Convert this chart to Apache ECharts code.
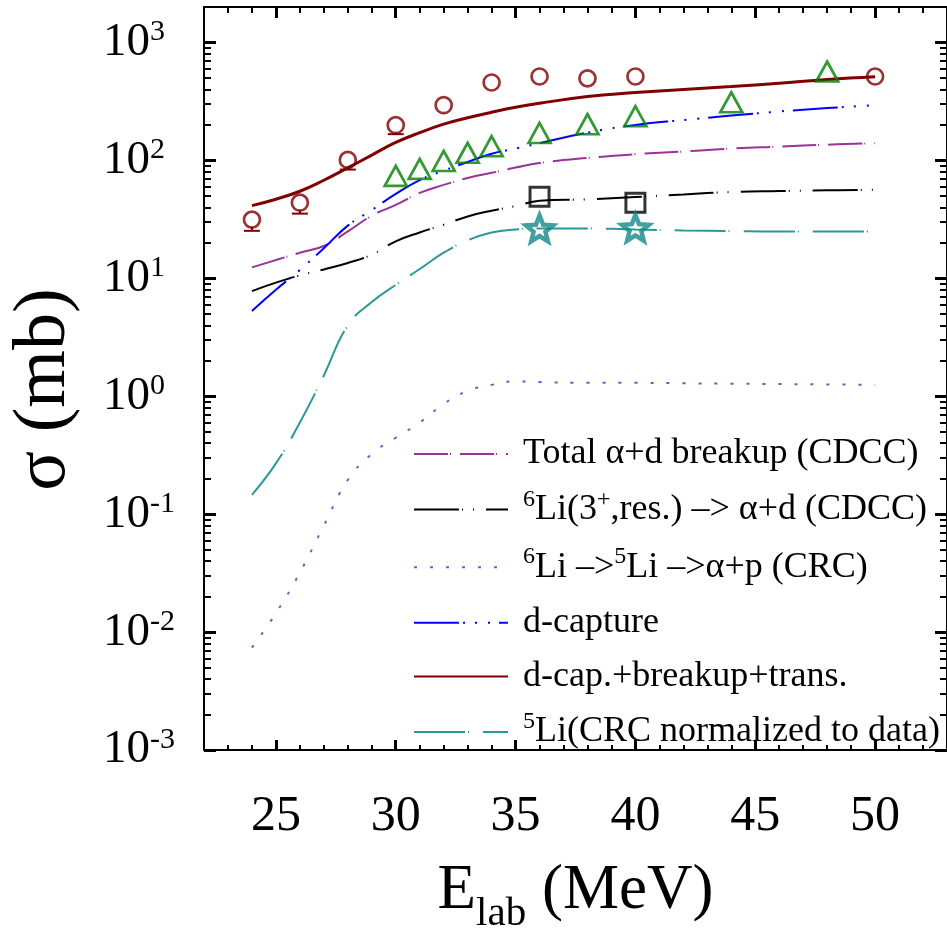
<!DOCTYPE html>
<html><head><meta charset="utf-8">
<script src="https://cdn.jsdelivr.net/npm/echarts@6/dist/echarts.min.js"></script>
<style>html,body{margin:0;padding:0;background:#fff}#c{width:947px;height:940px}</style>
</head><body><div id="c"></div>
<script>
var FONT = "'Liberation Serif','Times New Roman',serif";

// ---- data ----
var curveE        = [24,25,26,27,28,29,30,31,32,33,34,35,36,38,40,42,44,46,48,50];
var totalBreakup  = [12.4,14.3,16.5,18.8,25,34,42,53,62,71,78.5,87,95,105,113,119,126,131,136,140];
var resBreakup    = [7.8,9.2,10.6,11.9,13.5,15.9,20.6,24.5,28.5,33.5,37.5,41,45.6,46.8,49,51.5,54,55,55.8,56.4];
var li5Transfer   = [0.0074,0.0145,0.032,0.08,0.195,0.325,0.445,0.6,0.86,1.11,1.25,1.34,1.32,1.3,1.3,1.29,1.28,1.27,1.26,1.25];
var dCapture      = [5.3,8,11.8,18,28,38,52,68,82,97,114,126,140,172,200,220,240,260,278,294];
var dCapTotal     = [41.4,46.9,54.8,67.9,86.5,111,142,172,203,230,256,282,305,349,376,400,423,452,486,512];
var li5Norm       = [0.146,0.27,0.6,1.5,4.0,6.3,8.8,12,16.5,21,24.5,26,26.5,26.5,26,25.5,25.2,25,25,25];

var circleE   = [24,26,28,30,32,34,36,38,40,50];
var circleVal = [31.5,43.8,101,199,294,458,515,496,515,515];
var circleLow = [25.3,35.4,83.7,167,294,458,515,496,515,515];
var triE      = [30,31,32,33,34,36,38,40,44,48];
var triVal    = [74,84.8,99,116,132,171,203,237,311,567];
var sqE       = [36,40];
var sqVal     = [49.2,43.8];
var starE     = [36,40];
var starVal   = [26.5,26.8];

var xMajor = [25,30,35,40,45,50];
var yMajor = [0.001,0.01,0.1,1,10,100,1000];

var names = ['Total α+d breakup (CDCC)','6Li(3+,res.) –> α+d (CDCC)','6Li –>5Li –>α+p (CRC)','d-capture','d-cap.+breakup+trans.','5Li(CRC normalized to data)'];
var legendRich = {};
legendRich[names[0]] = '{n|Total α+d breakup (CDCC)}';
legendRich[names[1]] = '{s|6}{n|Li(3}{s|+}{n|,res.) –> α+d (CDCC)}';
legendRich[names[2]] = '{s|6}{n|Li –>}{s|5}{n|Li –>α+p (CRC)}';
legendRich[names[3]] = '{n|d-capture}';
legendRich[names[4]] = '{n|d-cap.+breakup+trans.}';
legendRich[names[5]] = '{s|5}{n|Li(CRC normalized to data)}';

// ---- tick helpers ----
var xMinor = []; for (var i = 22; i <= 53; i++) xMinor.push(i);
var yMinor = [];
for (var k = -3; k <= 3; k++) for (var m = 2; m <= 9; m++) { var v = +(m * Math.pow(10, k)).toPrecision(3); if (v <= 2000) yMinor.push(v); }

function pairs(xs, ys) { return xs.map(function (x, i) { return [x, ys[i]]; }); }

var X0 = 22, X1 = 53, Y0 = 0.001, Y1 = 2000;
function xAx(pos, custom, len, w, main) {
  return {
    type: 'value', min: X0, max: X1, position: pos,
    axisLine: { show: !!main, onZero: false, lineStyle: { color: '#000', width: 2 } },
    axisTick: { show: true, inside: true, length: len, customValues: custom, lineStyle: { color: '#000', width: w } },
    axisLabel: { show: false }, splitLine: { show: false }
  };
}
function yAx(pos, custom, len, w, main) {
  return {
    type: 'log', logBase: 10, min: Y0, max: Y1, position: pos,
    axisLine: { show: !!main, onZero: false, lineStyle: { color: '#000', width: 2 } },
    axisTick: { show: true, inside: true, length: len, customValues: custom, lineStyle: { color: '#000', width: w } },
    axisLabel: { show: false }, splitLine: { show: false }, minorTick: { show: false }
  };
}

var xAxes = [xAx('bottom', xMajor, 10, 3, true), xAx('bottom', xMinor, 5, 2, false), xAx('top', xMajor, 11, 3, true), xAx('top', xMinor, 6, 2, false)];
xAxes[0].axisLabel = { show: true, customValues: xMajor, fontFamily: FONT, fontSize: 50, color: '#000', margin: 42 };
xAxes[0].name = '{e|E}{b|lab}{e| (MeV)}';
xAxes[0].nameLocation = 'middle';
xAxes[0].nameGap = 102;
xAxes[0].nameTextStyle = { color: '#000', rich: {
  e: { fontFamily: FONT, fontSize: 63, lineHeight: 70, color: '#000' },
  b: { fontFamily: FONT, fontSize: 41, lineHeight: 41, padding: [47, 0, 0, 0], color: '#000' } } };

var yAxes = [yAx('left', yMajor, 12, 3, true), yAx('left', yMinor, 7, 2, false), yAx('right', yMajor, 12, 3, true), yAx('right', yMinor, 7, 2, false)];
yAxes[0].axisLabel = {
  show: true, customValues: yMajor, align: 'left', margin: 101, color: '#000',
  formatter: function (v) { var e = Math.round(Math.log10(v)); return '{b|10}{s|' + (e < 0 ? '-' + (-e) : e) + '}'; },
  rich: {
    b: { fontFamily: FONT, fontSize: 47, lineHeight: 50, color: '#000' },
    s: { fontFamily: FONT, fontSize: 30, lineHeight: 30, padding: [0, 0, 20, 0], color: '#000' } }
};
yAxes[0].name = 'σ (mb)';
yAxes[0].nameLocation = 'middle';
yAxes[0].nameGap = 122;
yAxes[0].nameTextStyle = { fontFamily: FONT, fontSize: 74, color: '#000', padding: [0, 22, 0, 0] };

function curve(name, ys, color, width, dash, z) {
  return { name: name, type: 'line', data: pairs(curveE, ys), symbol: 'none', smooth: 0.45,
    lineStyle: { color: color, width: width, type: dash }, itemStyle: { color: color }, z: z, silent: true };
}

var STAR = 'path://M50,0L62.9,32.3L97.6,34.5L70.8,56.7L79.4,90.5L50,71.8L20.6,90.5L29.2,56.7L2.4,34.5L37.1,32.3Z';

var series = [
  curve(names[0], totalBreakup, '#993399', 2, [34, 2, 1, 9], 2),
  curve(names[1], resBreakup, '#000000', 2, [45, 3, 1, 10, 1, 12], 2),
  curve(names[2], li5Transfer, '#6464c4', 2, [3, 13], 2),
  curve(names[3], dCapture, '#0000ff', 2, [45, 4, 2, 10, 2, 11, 2, 9], 2),
  curve(names[4], dCapTotal, '#800000', 3, 'solid', 3),
  curve(names[5], li5Norm, '#2a9898', 2, [51, 3, 1, 14], 2),
  { type: 'custom', name: 'err', data: circleE.map(function (x, i) { return [x, circleVal[i], circleLow[i]]; }), z: 4, silent: true,
    renderItem: function (params, api) {
      var p = api.coord([api.value(0), api.value(1)]);
      var q = api.coord([api.value(0), api.value(2)]);
      var top = p[1] + 7.5;
      if (q[1] <= top + 1) return null;
      return { type: 'group', children: [
        { type: 'line', shape: { x1: p[0], y1: top, x2: p[0], y2: q[1] }, style: { stroke: '#800000', lineWidth: 2 } },
        { type: 'line', shape: { x1: p[0] - 8, y1: q[1], x2: p[0] + 8, y2: q[1] }, style: { stroke: '#800000', lineWidth: 2 } } ] };
    } },
  { type: 'scatter', name: 'circles', data: pairs(circleE, circleVal), symbol: 'circle', symbolSize: 16, z: 5, silent: true,
    itemStyle: { color: 'rgba(255,255,255,0)', borderColor: '#800000', borderWidth: 2.7 } },
  { type: 'scatter', name: 'triangles', data: pairs(triE, triVal), symbol: 'triangle', symbolSize: [22, 20], z: 5, silent: true,
    itemStyle: { color: 'rgba(255,255,255,0)', borderColor: '#008000', borderWidth: 2.7 } },
  { type: 'scatter', name: 'squares', data: pairs(sqE, sqVal), symbol: 'rect', symbolSize: 19, z: 5, silent: true,
    itemStyle: { color: 'rgba(255,255,255,0)', borderColor: '#000', borderWidth: 3 } },
  { type: 'scatter', name: 'stars', data: pairs(starE, starVal), symbol: STAR, symbolSize: 27, symbolKeepAspect: true, z: 5, silent: true,
    itemStyle: { color: 'rgba(255,255,255,0)', borderColor: '#118888', borderWidth: 4.5 } }
];

var chart = echarts.init(document.getElementById('c'), null, { renderer: 'canvas' });
chart.setOption({
  animation: false,
  backgroundColor: '#fff',
  grid: { left: 203, top: 7, right: -2, bottom: 185, containLabel: false },
  xAxis: xAxes,
  yAxis: yAxes,
  legend: {
    orient: 'vertical', left: 408, top: 429, itemWidth: 94, itemHeight: 1, itemGap: 13.6,
    selectedMode: false, data: names,
    itemStyle: { color: 'rgba(0,0,0,0)', borderWidth: 0, opacity: 0 },
    formatter: function (n) { return legendRich[n]; },
    textStyle: { color: '#000', fontFamily: FONT, fontSize: 36, lineHeight: 40, padding: [0, 0, 0, 10],
      rich: {
        n: { fontFamily: FONT, fontSize: 36, lineHeight: 40, color: '#000' },
        s: { fontFamily: FONT, fontSize: 24, lineHeight: 20, padding: [0, 0, 20, 0], color: '#000' } } }
  },
  series: series
});
</script></body></html>
